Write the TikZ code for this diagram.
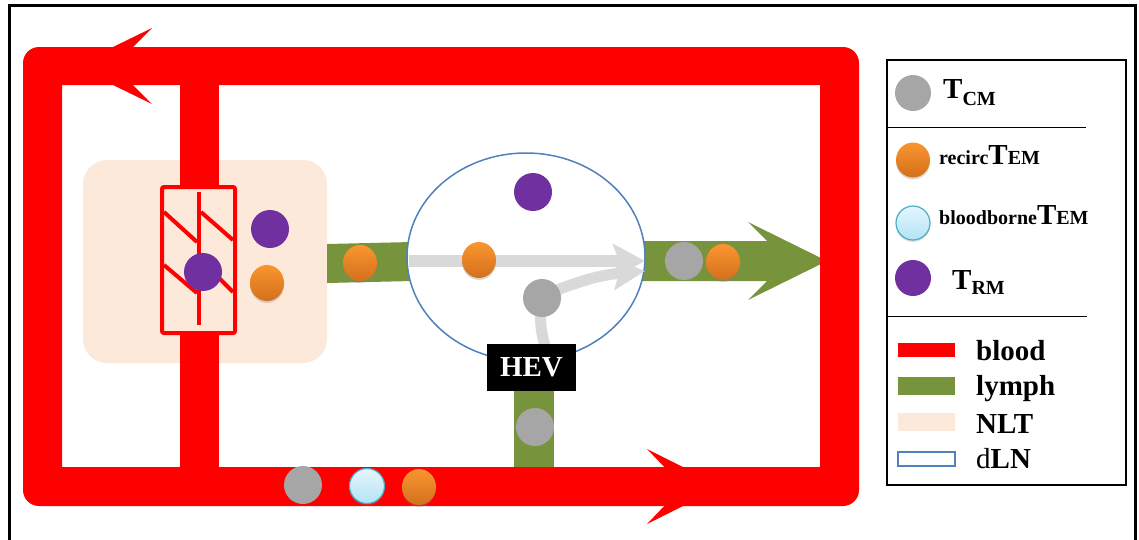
\documentclass[tikz,border=0pt]{standalone}
\usepackage{fontspec}
\setmainfont{Liberation Serif}
\usetikzlibrary{arrows.meta,shapes.geometric,shadows}
\definecolor{bloodred}{HTML}{FF0000}
\definecolor{lymphgreen}{HTML}{77933C}
\definecolor{nltpeach}{HTML}{FDE9D9}
\definecolor{lnblue}{HTML}{4F81BD}
\definecolor{cellgray}{HTML}{A6A6A6}
\definecolor{cellpurple}{HTML}{7030A0}
\definecolor{orangetop}{HTML}{F9962F}
\definecolor{orangebot}{HTML}{D46F1C}
\definecolor{bluetop}{HTML}{E4F6FD}
\definecolor{bluebot}{HTML}{B4E3F4}
\definecolor{blueedge}{HTML}{4BACC6}
\definecolor{arrowgray}{HTML}{D9D9D9}
\newcommand{\bigfs}{\fontsize{29}{30}\selectfont\bfseries}
\newcommand{\smallfs}{\fontsize{20}{21}\selectfont\bfseries}
\begin{document}
\begin{tikzpicture}[x=1pt,y=-1pt,
  gcell/.style={circle,fill=cellgray,minimum size=38pt,inner sep=0pt},
  pcell/.style={circle,fill=cellpurple,minimum size=38pt,inner sep=0pt},
  ocell/.style={ellipse,top color=orangetop,bottom color=orangebot,minimum width=34pt,minimum height=36pt,inner sep=0pt,
    drop shadow={shadow xshift=0pt,shadow yshift=-2pt,opacity=0.3}},
  bcell/.style={circle,top color=bluetop,bottom color=bluebot,draw=blueedge,line width=1.2pt,minimum size=35pt,inner sep=0pt,
    drop shadow={shadow xshift=0pt,shadow yshift=-2pt,opacity=0.25}},
  hatch/.style={bloodred,line width=4pt},
  grayflow/.style={arrowgray,line width=12pt,-{Stealth[length=32pt,width=34pt,inset=6pt]}},
  legtext/.style={anchor=base west,inner sep=0pt},
]
\useasboundingbox (0,0) rectangle (1139,539);
% outer frame (open at bottom)
\draw[line width=3.5pt] (9.5,545) -- (9.5,5.3) -- (1135.3,5.3) -- (1135.3,545);

% NLT region
\node[rectangle,rounded corners=24pt,fill=nltpeach,minimum width=244pt,minimum height=203pt,inner sep=0pt] (nlt) at (205,261.5) {};

% lymph vessels
\fill[lymphgreen] (327,244) -- (412,242) -- (412,281) -- (327,283) -- cycle;
\fill[lymphgreen] (514,385) rectangle (554,468);
\fill[lymphgreen] (630,241) -- (767,241) -- (748,222) -- (827,261) -- (748,300) -- (767,281) -- (630,281) -- cycle;

% blood loop
\fill[bloodred,even odd rule,rounded corners=16pt] (23,47) rectangle (859,506) [sharp corners] (62,85) rectangle (820,467);
\fill[bloodred] (180,80) rectangle (219,470);
% blood arrowheads
\fill[bloodred] (74,66) -- (152,28) -- (114,66) -- (152,104) -- cycle;
\fill[bloodred] (722,486.5) -- (647,449) -- (683,486.5) -- (647,524) -- cycle;

% hatched box
\node[rectangle,draw=bloodred,line width=4pt,rounded corners=2pt,fill=nltpeach,minimum width=73pt,minimum height=146pt,inner sep=0pt] (hbox) at (198.5,260) {};
\draw[hatch] (199,192) -- (199,325);
\draw[hatch] (164,212) -- (197,242);
\draw[hatch] (201,212) -- (233,240);
\draw[hatch] (164,265) -- (197,293);
\draw[hatch] (201,260) -- (233,292);

% dLN
\node[ellipse,draw=lnblue,line width=1.5pt,fill=white,minimum width=238pt,minimum height=208pt,inner sep=0pt] (dln) at (526,257) {};

% gray migration arrows
\coordinate (gaS) at (409,261);
\coordinate (gaE) at (645,261);
\draw[grayflow] (gaS) -- (gaE);
\coordinate (gbS) at (545,346);
\coordinate (gbE) at (645,271);
\draw[arrowgray,line width=11pt,-{Stealth[length=32pt,width=32pt,inset=6pt]}] (gbS) .. controls (536,315) and (540,295) .. (565,287) .. controls (585,280) and (600,275) .. (gbE);

% HEV
\node[fill=black,text=white,minimum width=89pt,minimum height=47pt,inner sep=0pt,font=\bigfs] (hev) at (531.5,367.5) {HEV};

% cells
\node[pcell] (p1) at (203,272) {};
\node[pcell] (p2) at (270,229) {};
\node[ocell] (o1) at (267,283) {};
\node[ocell] (o2) at (360,263) {};
\node[pcell] (p3) at (533,192) {};
\node[ocell] (o3) at (479,260) {};
\node[gcell] (g1) at (542,298) {};
\node[gcell] (g2) at (684,261) {};
\node[ocell] (o4) at (723,262) {};
\node[gcell] (g3) at (535,427) {};
\node[gcell] (g4) at (303,485) {};
\node[bcell] (b1) at (367,486) {};
\node[ocell] (o5) at (419,487) {};

% legend
\node[draw,line width=2pt,minimum width=239pt,minimum height=425pt,inner sep=0pt] (legend) at (1006.5,272.5) {};
\coordinate (s1a) at (887,127); \coordinate (s1b) at (1086,127);
\coordinate (s2a) at (887,316); \coordinate (s2b) at (1087,316);
\draw[line width=1pt] (s1a) -- (s1b);
\draw[line width=1pt] (s2a) -- (s2b);

\node[gcell,minimum size=36pt] (lg1) at (913,93) {};
\node[legtext] (lt1) at (943,98) {\bigfs T\smallfs\raisebox{-7pt}{CM}};
\node[ocell,minimum width=34pt,minimum height=35pt] (lg2) at (913,160) {};
\node[legtext] (lt2) at (939,164) {\smallfs recirc\bigfs T\smallfs EM};
\node[bcell,minimum size=34pt] (lg3) at (913,223) {};
\node[legtext] (lt3) at (939,224) {\smallfs bloodborne\bigfs T\smallfs EM};
\node[pcell,minimum size=36pt] (lg4) at (913,278) {};
\node[legtext] (lt4) at (952,289) {\bigfs T\smallfs\raisebox{-5pt}{RM}};

\fill[bloodred] (898,343) rectangle (955,357);
\fill[lymphgreen] (898,377) rectangle (955,395);
\fill[nltpeach] (898,413) rectangle (955,431);
\draw[lnblue,line width=1.5pt] (898,452) rectangle (955,466);
\node[legtext] (lb1) at (976,360) {\bigfs blood};
\node[legtext] (lb2) at (976,395) {\bigfs lymph};
\node[legtext] (lb3) at (976,433) {\bigfs NLT};
\node[legtext] (lb4) at (976,468) {\fontsize{29}{30}\selectfont d\bfseries LN};
\end{tikzpicture}
\end{document}
